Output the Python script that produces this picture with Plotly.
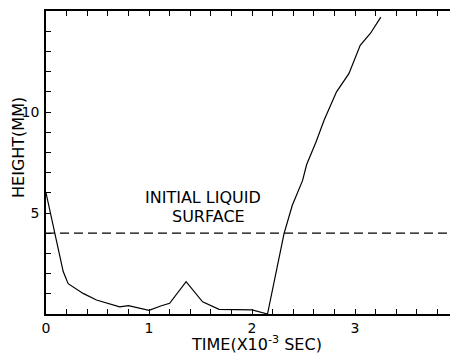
import plotly.graph_objects as go

time_ms = [0.0, 0.087, 0.167, 0.215, 0.36, 0.49, 0.60, 0.715, 0.80, 0.90, 1.0, 1.12, 1.2,
           1.36, 1.52, 1.68, 2.0, 2.15, 2.26, 2.31, 2.39, 2.49, 2.53, 2.62, 2.70, 2.82,
           2.94, 3.05, 3.15, 3.25]
height_mm = [6.0, 4.0, 2.1, 1.5, 1.02, 0.69, 0.53, 0.35, 0.41, 0.3, 0.18, 0.41, 0.53,
             1.6, 0.6, 0.23, 0.2, 0.0, 2.66, 3.97, 5.37, 6.6, 7.4, 8.5, 9.6, 11.0,
             11.9, 13.3, 13.9, 14.7]
surface_x = [0.0, 3.97]
surface_y = [4.0, 4.0]
x_range = [0, 3.97]
y_range = [0, 15]
x_tickvals = [round(i * 0.2, 1) for i in range(0, 20)]
x_ticklabels = {0: "0", 1: "1", 2: "2", 3: "3"}
y_tickvals = list(range(1, 15))
y_ticklabels = {5: "5", 10: "10"}

FONT = "DejaVu Sans"

x_text = [x_ticklabels.get(v, "") if float(v).is_integer() else "" for v in x_tickvals]
y_text = [y_ticklabels.get(v, "") for v in y_tickvals]

fig = go.Figure()
fig.add_trace(go.Scatter(x=surface_x, y=surface_y, mode="lines",
                         line=dict(color="black", width=1.2, dash="9px,5px"),
                         showlegend=False, hoverinfo="skip"))
fig.add_trace(go.Scatter(x=time_ms, y=height_mm, mode="lines",
                         line=dict(color="black", width=1.2),
                         showlegend=False))

fig.add_annotation(x=1.52, y=5.75, text="INITIAL LIQUID", showarrow=False,
                   xanchor="center", yanchor="middle",
                   font=dict(family=FONT, size=16, color="black"), xref="x", yref="y")
fig.add_annotation(x=1.58, y=4.85, text="SURFACE", showarrow=False,
                   xanchor="center", yanchor="middle",
                   font=dict(family=FONT, size=16, color="black"), xref="x", yref="y")
fig.add_annotation(x=0.515, y=0, yshift=-29, xref="paper", yref="paper",
                   xanchor="center", yanchor="middle",
                   text="TIME(X10<sup>-3</sup> SEC)", showarrow=False,
                   font=dict(family=FONT, size=16, color="black"))
fig.add_annotation(x=0, y=0.548, xshift=-27, xref="paper", yref="paper",
                   xanchor="center", yanchor="middle",
                   text="HEIGHT(MM)", textangle=-90, showarrow=False,
                   font=dict(family=FONT, size=16, color="black"))

tick_common = dict(ticks="inside", ticklen=5, tickwidth=1.2, tickcolor="black",
                   showline=True, linecolor="black", linewidth=1.5, mirror="ticks",
                   showgrid=False, zeroline=False)

fig.update_layout(
    width=450, height=346,
    margin=dict(l=38, r=1, t=1, b=40),
    plot_bgcolor="white", paper_bgcolor="white",
    font=dict(family=FONT, size=14, color="black"),
    xaxis=dict(range=x_range, tickmode="array", tickvals=x_tickvals, ticktext=x_text,
               **tick_common),
    yaxis=dict(range=y_range, tickmode="array", tickvals=y_tickvals, ticktext=y_text,
               ticklabelstandoff=2, **tick_common),
)

fig.write_html("out.html")
